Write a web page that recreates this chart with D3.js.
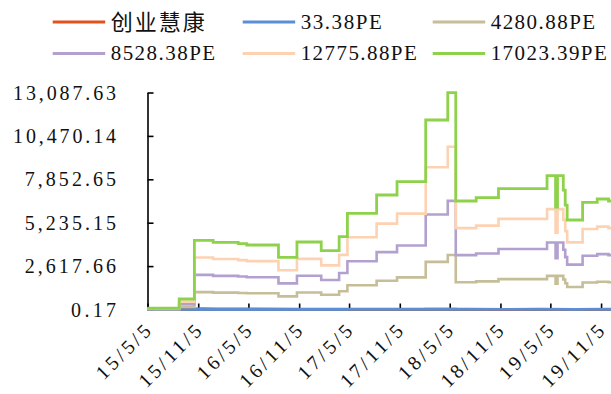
<!DOCTYPE html>
<html>
<head>
<meta charset="utf-8">
<script src="https://cdn.jsdelivr.net/npm/d3@7"></script>
<style>
  html, body { margin: 0; padding: 0; background: #fff; overflow: hidden; }
  svg { display: block; }
</style>
</head>
<body>
<svg id="chart" width="611" height="394"></svg>
<script>
// PE band chart for 创业慧康: share price plus five PE-multiple bands (weekly closes, drawn as steps)

const seriesNames = ["创业慧康", "33.38PE", "4280.88PE", "8528.38PE", "12775.88PE", "17023.39PE"];
const seriesColors = ["#E2521F", "#5A8ED6", "#C6BE98", "#B2A1CF", "#FDD2B2", "#8DD24A"];

// Dates at which the band values change
const bandDates = [
  "2015-05-05", "2015-08-28", "2015-10-22", "2015-12-29", "2016-03-29", "2016-04-29",
  "2016-08-22", "2016-10-28", "2017-01-24", "2017-03-30", "2017-04-29", "2017-08-13",
  "2017-10-26", "2018-02-07", "2018-04-28", "2018-05-27", "2018-08-09", "2018-10-29",
  "2019-04-23", "2019-05-24", "2019-05-31", "2019-06-21", "2019-06-28", "2019-07-05",
  "2019-08-30", "2019-10-22", "2019-12-02", "2019-12-16"
];

const pe33 = [0.15, 1.2, 8.2, 7.9, 7.8, 7.6, 6.2, 8.0, 7.0, 8.6, 11.4, 13.5,
  15.1, 22.4, 25.6, 12.8, 13.2, 14.3, 15.8, 12.1, 15.8, 14.1, 12.4, 10.6,
  12.7, 13.1, 12.8, 12.8];
const pe4280 = [19, 159, 1049, 1019, 998, 978, 792, 1024, 892, 1104, 1459, 1737,
  1939, 2874, 3290, 1646, 1696, 1832, 2029, 1554, 2029, 1811, 1584, 1358,
  1626, 1676, 1646, 1646];
const pe8528 = [38, 317, 2091, 2031, 1988, 1949, 1577, 2040, 1777, 2199, 2907, 3459,
  3862, 5726, 6553, 3279, 3378, 3650, 4043, 3096, 4043, 3607, 3156, 2704,
  3239, 3339, 3279, 3279];
const pe12775 = [56, 475, 3132, 3042, 2978, 2919, 2363, 3055, 2661, 3295, 4354, 5182,
  5785, 8577, 9817, 4911, 5061, 5467, 6056, 4638, 6056, 5404, 4728, 4051,
  4852, 5001, 4911, 4911];
const pe17023 = [75, 633, 4173, 4053, 3968, 3890, 3148, 4071, 3546, 4390, 5802, 6905,
  7708, 11429, 13080, 6544, 6743, 7285, 8069, 6180, 8069, 7200, 6300, 5398,
  6465, 6664, 6544, 6544];

// Share price
const priceDates = [
  "2015-05-05", "2015-06-15", "2015-07-10", "2015-09-01", "2015-11-20", "2016-01-10",
  "2016-06-01", "2016-11-01", "2017-05-01", "2017-11-01", "2018-03-01", "2018-07-01",
  "2018-12-01", "2019-04-01", "2019-08-01", "2019-12-16"
];
const price = [55, 70, 40, 35, 60, 40, 38, 35, 30, 28, 32, 25, 20, 28, 22, 24];

const yTicks = [0.17, 2617.66, 5235.15, 7852.65, 10470.14, 13087.63];
const xTickLabels = ["15/5/5", "15/11/5", "16/5/5", "16/11/5", "17/5/5",
  "17/11/5", "18/5/5", "18/11/5", "19/5/5", "19/11/5"];
const axisEndDate = "2019-12-11";

const parseDay = d3.timeParse("%Y-%m-%d");
const parseTick = d3.timeParse("%y/%m/%d");
const fmtTick = d3.timeFormat("%y/%-m/%-d");

const svg = d3.select("#chart");
const plotLeft = 147.5, plotRight = 611, plotTop = 92.5, plotBottom = 309.5;
const CELL = 11.6;           // advance of one character in the label font
const FONT = "'Liberation Serif', 'DejaVu Serif', serif";

const x = d3.scaleTime()
  .domain([parseTick(xTickLabels[0]), parseDay(axisEndDate)])
  .range([plotLeft, plotRight]);
const y = d3.scaleLinear()
  .domain([yTicks[0], yTicks[yTicks.length - 1]])
  .range([plotBottom, plotTop]);

// ---- axes ----
const yAxis = d3.axisLeft(y)
  .tickValues(yTicks)
  .tickFormat(d3.format(",.2f"))
  .tickSizeInner(-6)
  .tickSizeOuter(0)
  .tickPadding(31.5);

const gy = svg.append("g").attr("transform", `translate(${plotLeft},0)`).call(yAxis);
gy.select(".domain").attr("stroke", "#000").attr("stroke-width", 1.6);
gy.selectAll(".tick line").attr("stroke", "#000").attr("stroke-width", 1.6);
gy.selectAll(".tick text")
  .attr("fill", "#111")
  .style("font-family", FONT)
  .style("font-size", "20px")
  .attr("dy", "0.33em")
  .attr("lengthAdjust", "spacing")
  .attr("textLength", function () { return this.textContent.length * CELL - 1.5; });

const xAxis = d3.axisBottom(x)
  .tickValues(xTickLabels.map(parseTick))
  .tickFormat(fmtTick)
  .tickSizeInner(-6)
  .tickSizeOuter(0);

const gx = svg.append("g").attr("transform", `translate(0,${plotBottom})`).call(xAxis);
gx.select(".domain").attr("stroke", "#000").attr("stroke-width", 1.2);
gx.selectAll(".tick line").attr("stroke", "#000").attr("stroke-width", 1.6);
gx.selectAll(".tick text")
  .attr("fill", "#111")
  .style("font-family", FONT)
  .style("font-size", "20px")
  .attr("text-anchor", "end")
  .attr("x", null)
  .attr("y", null)
  .attr("dy", null)
  .attr("transform", "translate(4,23) rotate(-45)")
  .attr("lengthAdjust", "spacing")
  .attr("textLength", function () { return this.textContent.length * CELL - 1.5; });

// ---- series ----
const bandSeries = [pe33, pe4280, pe8528, pe12775, pe17023];
const bandX = bandDates.map(parseDay);

const stepLine = d3.line()
  .x(d => x(d[0]))
  .y(d => y(d[1]))
  .curve(d3.curveStepAfter);

const priceLine = d3.line()
  .x(d => x(d[0]))
  .y(d => y(d[1]))
  .curve(d3.curveLinear);

const plot = svg.append("g");

plot.append("path")
  .datum(priceDates.map((d, i) => [parseDay(d), price[i]]))
  .attr("fill", "none")
  .attr("stroke", seriesColors[0])
  .attr("stroke-width", 2.5)
  .attr("d", priceLine);

bandSeries.forEach((vals, k) => {
  plot.append("path")
    .datum(bandX.map((d, i) => [d, vals[i]]))
    .attr("fill", "none")
    .attr("stroke", seriesColors[k + 1])
    .attr("stroke-width", k === 4 ? 2.8 : 2.6)
    .attr("stroke-linejoin", "miter")
    .attr("d", stepLine);
});

// ---- legend: two rows of three ----
const legend = svg.append("g");
seriesNames.forEach((name, i) => {
  const col = i % 3, row = Math.floor(i / 3);
  const lx = 52.7 + col * 190;
  const ly = row === 0 ? 22 : 53.5;
  const g = legend.append("g").attr("transform", `translate(${lx},${ly})`);
  g.append("line")
    .attr("x1", 0).attr("x2", 52.5)
    .attr("y1", 0).attr("y2", 0)
    .attr("stroke", seriesColors[i])
    .attr("stroke-width", 3);
  const isCJK = /[\u4e00-\u9fff]/.test(name);
  g.append("text")
    .attr("x", 58)
    .attr("y", 0)
    .attr("dy", isCJK ? "0.36em" : "0.33em")
    .attr("fill", "#111")
    .style("font-family", isCJK ? "'Noto Sans CJK SC', sans-serif" : FONT)
    .style("font-size", isCJK ? "22px" : "21px")
    .attr("lengthAdjust", "spacing")
    .attr("textLength", isCJK ? 94 : name.length * 11.66 - 0.5)
    .text(name);
});
</script>
</body>
</html>
